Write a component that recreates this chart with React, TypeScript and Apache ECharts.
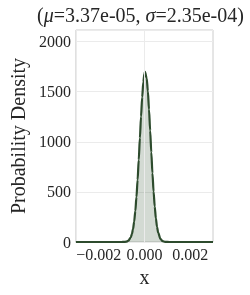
import React, { useEffect, useRef } from "react";
import * as echarts from "echarts";

const xValues = [
  -0.003, -0.0012, -0.001, -0.0009, -0.0008, -0.0007, -0.0006, -0.00055, -0.0005, -0.00045,
  -0.0004, -0.00035, -0.0003, -0.00025, -0.0002, -0.00015, -0.0001, -0.00005, 0, 0.00003,
  0.00005, 0.0001, 0.00015, 0.0002, 0.00025, 0.0003, 0.00035, 0.0004, 0.00045, 0.0005,
  0.00055, 0.0006, 0.0007, 0.0008, 0.0009, 0.001, 0.0012, 0.003,
];
const densityValues = [
  0, 0, 0.1, 0.6, 3.1, 13, 45, 78, 129, 204,
  309, 448, 620, 819, 1036, 1251, 1444, 1594, 1681, 1698,
  1694, 1632, 1502, 1322, 1112, 894, 686, 504, 354, 237,
  152, 93, 31, 8, 2, 0.4, 0, 0,
];
const xGridTicks = [-0.002, 0, 0.002];
const titleParts = { mu: "3.37e-05", sigma: "2.35e-04" };
const xLabel = "x";
const yLabel = "Probability Density";

const FONT = "Liberation Serif";
const TEXT = "#262626";

export default function App() {
  const ref = useRef<HTMLDivElement>(null);
  useEffect(() => {
    if (!ref.current) return;
    const chart = echarts.init(ref.current, undefined, { renderer: "svg" });
    const data = xValues.map((x, i) => [x, densityValues[i]]);
    chart.setOption({
      animation: false,
      grid: {
        left: 68,
        top: 30,
        width: 145,
        height: 212,
        show: true,
        borderColor: "#cccccc",
        borderWidth: 1,
      },
      graphic: [
        {
          type: "text",
          x: 140.5,
          y: 15,
          style: {
            text: `({i|μ}=${titleParts.mu}, {i|σ}=${titleParts.sigma})`,
            align: "center",
            verticalAlign: "middle",
            fontFamily: FONT,
            fontSize: 20,
            fill: TEXT,
            rich: {
              i: { fontFamily: FONT, fontSize: 20, fontStyle: "italic", fill: TEXT, color: TEXT },
            },
          },
        },
      ],
      xAxis: {
        type: "value",
        min: -0.003,
        max: 0.003,
        interval: 0.001,
        name: xLabel,
        nameLocation: "middle",
        nameGap: 24,
        nameTextStyle: { fontFamily: FONT, fontSize: 20, color: TEXT },
        axisLine: { show: false },
        axisTick: { show: false },
        splitLine: { show: false },
        axisLabel: {
          fontFamily: FONT,
          fontSize: 16,
          color: TEXT,
          margin: 4,
          formatter: (v: number) => {
            const k = Math.round(v * 1000);
            if (k % 2 !== 0) return "";
            return (k < 0 ? "−" : "") + Math.abs(v).toFixed(3);
          },
        },
      },
      yAxis: {
        type: "value",
        min: 0,
        max: 2115,
        interval: 500,
        name: yLabel,
        nameLocation: "middle",
        nameGap: 42,
        nameTextStyle: { fontFamily: FONT, fontSize: 20, color: TEXT },
        axisLine: { show: false },
        axisTick: { show: false },
        splitLine: { show: true, lineStyle: { color: "#ebebeb", width: 1 } },
        axisLabel: {
          fontFamily: FONT,
          fontSize: 16,
          color: TEXT,
          margin: 5,
          showMaxLabel: false,
          formatter: (v: number) => (v % 500 === 0 ? String(v) : ""),
        },
      },
      series: [
        {
          type: "line",
          data: [],
          z: 1,
          silent: true,
          markLine: {
            silent: true,
            symbol: "none",
            label: { show: false },
            lineStyle: { color: "#ebebeb", width: 1, type: "solid" },
            data: xGridTicks.map((x) => ({ xAxis: x })),
          },
        },
        {
          type: "line",
          data,
          z: 3,
          showSymbol: false,
          smooth: 0.3,
          smoothMonotone: "x",
          lineStyle: { color: "#2d4b2d", width: 2.2 },
          areaStyle: { color: "rgba(45,80,45,0.3)" },
        },
      ],
    });
    return () => chart.dispose();
  }, []);
  return (
    <div
      ref={ref}
      style={{ position: "fixed", left: 0, top: 0, width: 250, height: 295 }}
    />
  );
}
